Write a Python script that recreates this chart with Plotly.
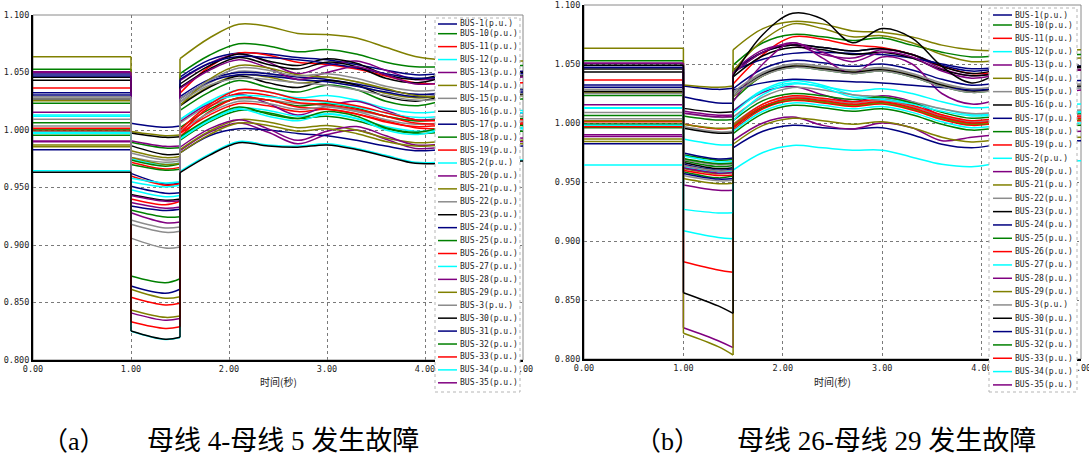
import plotly.graph_objects as go

# ---------------- data ----------------
BUSES = ["BUS-1", "BUS-10", "BUS-11", "BUS-12", "BUS-13", "BUS-14", "BUS-15", "BUS-16",
         "BUS-17", "BUS-18", "BUS-19", "BUS-2", "BUS-20", "BUS-21", "BUS-22", "BUS-23",
         "BUS-24", "BUS-25", "BUS-26", "BUS-27", "BUS-28", "BUS-29", "BUS-3", "BUS-30",
         "BUS-31", "BUS-32", "BUS-33", "BUS-34", "BUS-35", "BUS-36", "BUS-37", "BUS-38",
         "BUS-39", "BUS-4", "BUS-5", "BUS-6", "BUS-7", "BUS-8", "BUS-9"]
UNIT = "(p.u.)"
LEGEND_COUNT = 29  # entries visible in the (clipped) legend

T_PRE = [0.0, 1.0]
T_FAULT = [1.0, 1.35, 1.5]
T_POST = [1.5, 1.8, 2.1, 2.4, 2.7, 3.0, 3.3, 3.6, 3.9, 4.2, 5.0]

X_TICKS = [0, 1, 2, 3, 4, 5]
X_TICK_TEXT = ["0.00", "1.00", "2.00", "3.00", "4.00", "5.00"]
Y_TICKS = [0.80, 0.85, 0.90, 0.95, 1.00, 1.05, 1.10]
Y_TICK_TEXT = ["0.800", "0.850", "0.900", "0.950", "1.000", "1.050", "1.100"]
X_TITLE = "时间(秒)"
CAPTION_A = ("（a）", "母线 4-母线 5 发生故障")
CAPTION_B = ("（b）", "母线 26-母线 29 发生故障")

# ----- (a) fault on line 4-5 -----
PRE_A = [1.0487, 1.0528, 1.0365, 1.0130, 1.0507, 1.0637, 1.0287, 1.0458, 1.0470, 1.0232,
         1.0011, 0.9646, 1.0154, 1.0260, 1.0093, 1.0432, 1.0324, 1.0064, 0.9985, 0.9971,
         0.9898, 0.9870, 1.0035, 1.0270, 1.0304, 1.0000, 1.0015, 1.0120, 1.0500, 1.0255,
         1.0290, 0.9632, 0.9829, 0.9954, 0.9990, 0.9980, 0.9905, 0.9855, 1.0270]

FAULT_A = [
    [1.0058, 1.0023, 1.0035], [0.9893, 0.9843, 0.9845], [0.9720, 0.9661, 0.9675],
    [0.9748, 0.9700, 0.9714], [0.9907, 0.9858, 0.9860], [0.9986, 0.9951, 0.9957],
    [0.9762, 0.9719, 0.9733], [0.9974, 0.9936, 0.9942], [0.9623, 0.9530, 0.9542],
    [0.9739, 0.9685, 0.9706], [0.9600, 0.9520, 0.9532], [0.8250, 0.8178, 0.8195],
    [0.9280, 0.9194, 0.9200], [0.9762, 0.9700, 0.9710], [0.9217, 0.9148, 0.9157],
    [0.9864, 0.9786, 0.9791], [0.9510, 0.9450, 0.9455], [0.9700, 0.9650, 0.9658],
    [0.8545, 0.8478, 0.8493], [0.9550, 0.9505, 0.9520], [0.8410, 0.8345, 0.8360],
    [0.8615, 0.8537, 0.8550], [0.9060, 0.8974, 0.8983], [0.9440, 0.9390, 0.9400],
    [0.9340, 0.9300, 0.9310], [0.9304, 0.9243, 0.9246], [0.9400, 0.9350, 0.9380],
    [0.9480, 0.9420, 0.9430], [0.9370, 0.9320, 0.9330], [0.8435, 0.8371, 0.8383],
    [0.9800, 0.9740, 0.9750], [0.8252, 0.8180, 0.8197], [0.8643, 0.8580, 0.8615],
    [0.8730, 0.8672, 0.8707], [0.8333, 0.8275, 0.8290], [0.9580, 0.9540, 0.9550],
    [0.9430, 0.9380, 0.9385], [0.9820, 0.9760, 0.9770], [0.9180, 0.9110, 0.9120],
]

POST_A = [
    [1.046, 1.061, 1.067, 1.066, 1.063, 1.061, 1.057, 1.052, 1.048, 1.049, 1.051],
    [1.049, 1.065, 1.075, 1.073, 1.068, 1.070, 1.066, 1.059, 1.055, 1.055, 1.056],
    [1.032, 1.055, 1.067, 1.065, 1.059, 1.057, 1.053, 1.047, 1.041, 1.040, 1.041],
    [1.009, 1.025, 1.035, 1.033, 1.028, 1.030, 1.026, 1.019, 1.015, 1.016, 1.017],
    [1.043, 1.058, 1.066, 1.059, 1.049, 1.056, 1.060, 1.052, 1.044, 1.045, 1.050],
    [1.062, 1.080, 1.092, 1.090, 1.084, 1.083, 1.080, 1.072, 1.064, 1.061, 1.060],
    [1.025, 1.041, 1.051, 1.049, 1.044, 1.046, 1.042, 1.035, 1.031, 1.032, 1.033],
    [1.040, 1.056, 1.066, 1.060, 1.056, 1.062, 1.058, 1.048, 1.044, 1.048, 1.050],
    [1.044, 1.058, 1.064, 1.063, 1.061, 1.058, 1.054, 1.049, 1.045, 1.046, 1.049],
    [1.017, 1.033, 1.043, 1.037, 1.033, 1.039, 1.035, 1.025, 1.021, 1.025, 1.027],
    [0.997, 1.013, 1.023, 1.021, 1.016, 1.018, 1.014, 1.007, 1.003, 1.004, 1.005],
    [0.964, 0.979, 0.990, 0.987, 0.986, 0.988, 0.984, 0.978, 0.972, 0.972, 0.974],
    [1.007, 1.023, 1.031, 1.023, 1.013, 1.021, 1.025, 1.017, 1.009, 1.010, 1.015],
    [1.022, 1.038, 1.048, 1.046, 1.041, 1.043, 1.039, 1.032, 1.028, 1.029, 1.030],
    [1.006, 1.021, 1.027, 1.026, 1.023, 1.021, 1.017, 1.012, 1.008, 1.009, 1.012],
    [1.037, 1.053, 1.063, 1.057, 1.053, 1.059, 1.055, 1.045, 1.041, 1.045, 1.047],
    [1.029, 1.044, 1.050, 1.049, 1.046, 1.044, 1.040, 1.035, 1.031, 1.032, 1.035],
    [1.002, 1.018, 1.028, 1.026, 1.021, 1.023, 1.019, 1.012, 1.008, 1.009, 1.010],
    [0.994, 1.016, 1.028, 1.026, 1.020, 1.018, 1.014, 1.008, 1.002, 1.001, 1.002],
    [0.993, 1.009, 1.019, 1.017, 1.012, 1.014, 1.010, 1.003, 0.999, 1.000, 1.001],
    [0.982, 0.998, 1.006, 0.998, 0.988, 0.996, 1.000, 0.992, 0.984, 0.985, 0.990],
    [0.983, 0.999, 1.009, 1.007, 1.002, 1.004, 1.000, 0.993, 0.989, 0.990, 0.991],
    [0.999, 1.015, 1.025, 1.023, 1.018, 1.020, 1.016, 1.009, 1.005, 1.006, 1.007],
    [1.021, 1.037, 1.047, 1.041, 1.037, 1.043, 1.039, 1.029, 1.025, 1.029, 1.031],
    [1.027, 1.042, 1.048, 1.047, 1.044, 1.042, 1.038, 1.033, 1.029, 1.030, 1.033],
    [0.994, 1.010, 1.020, 1.014, 1.010, 1.016, 1.012, 1.002, 0.998, 1.002, 1.004],
    [0.997, 1.020, 1.032, 1.030, 1.024, 1.022, 1.018, 1.012, 1.006, 1.005, 1.006],
    [1.009, 1.024, 1.030, 1.029, 1.026, 1.024, 1.020, 1.015, 1.011, 1.012, 1.015],
    [1.036, 1.052, 1.061, 1.054, 1.044, 1.050, 1.055, 1.048, 1.040, 1.041, 1.046],
    [1.021, 1.044, 1.056, 1.054, 1.048, 1.046, 1.042, 1.036, 1.030, 1.029, 1.030],
    [1.027, 1.043, 1.054, 1.052, 1.047, 1.049, 1.045, 1.038, 1.034, 1.035, 1.036],
    [0.963, 0.978, 0.989, 0.986, 0.985, 0.987, 0.983, 0.977, 0.971, 0.971, 0.973],
    [0.980, 0.995, 1.001, 1.000, 0.997, 0.995, 0.991, 0.986, 0.982, 0.983, 0.986],
    [0.991, 1.007, 1.017, 1.015, 1.010, 1.012, 1.008, 1.001, 0.997, 0.998, 0.999],
    [1.000, 1.022, 1.035, 1.033, 1.027, 1.025, 1.021, 1.015, 1.009, 1.008, 1.009],
    [0.992, 1.008, 1.018, 1.012, 1.008, 1.014, 1.010, 1.000, 0.996, 1.000, 1.002],
    [0.985, 1.001, 1.009, 1.001, 0.991, 0.999, 1.003, 0.995, 0.987, 0.988, 0.993],
    [0.980, 0.996, 1.006, 1.004, 0.999, 1.001, 0.997, 0.990, 0.986, 0.987, 0.988],
    [1.024, 1.039, 1.045, 1.044, 1.041, 1.039, 1.035, 1.030, 1.026, 1.027, 1.030],
]

# ----- (b) fault on line 26-29 -----
PRE_B = [1.0487, 1.0528, 1.0365, 1.0130, 1.0507, 1.0633, 1.0287, 1.0458, 1.0470, 1.0232,
         1.0011, 0.9644, 1.0154, 1.0260, 1.0088, 1.0432, 1.0322, 1.0064, 0.9985, 0.9975,
         0.9900, 0.9864, 1.0035, 1.0266, 1.0302, 0.9992, 1.0015, 1.0124, 1.0506, 1.0020,
         1.0280, 1.0490, 0.9824, 0.9960, 0.9968, 0.9980, 0.9885, 0.9844, 1.0251]

FAULT_B = [
    [1.0314, 1.0285, 1.0294], [0.9730, 0.9685, 0.9690], [0.9992, 0.9950, 0.9960],
    [0.9720, 0.9670, 0.9675], [1.0102, 1.0066, 1.0068], [1.0322, 1.0302, 1.0314],
    [1.0080, 1.0048, 1.0050], [1.0124, 1.0090, 1.0096], [1.0223, 1.0170, 1.0167],
    [0.9680, 0.9630, 0.9640], [0.9695, 0.9650, 0.9660], [0.9864, 0.9816, 0.9816],
    [0.9475, 0.9430, 0.9430], [0.9615, 0.9570, 0.9580], [0.9970, 0.9925, 0.9930],
    [0.9955, 0.9913, 0.9918], [0.9746, 0.9695, 0.9703], [0.9587, 0.9535, 0.9550],
    [0.8825, 0.8755, 0.8735], [0.9087, 0.9030, 0.9020], [0.8265, 0.8155, 0.8096],
    [0.8218, 0.8105, 0.8034], [0.9690, 0.9645, 0.9650], [0.9665, 0.9612, 0.9620],
    [0.9650, 0.9600, 0.9610], [0.9700, 0.9655, 0.9660], [0.9640, 0.9585, 0.9590],
    [0.9268, 0.9238, 0.9240], [1.0085, 1.0052, 1.0055], [0.9990, 0.9955, 0.9960],
    [0.9555, 0.9510, 0.9515], [0.8562, 0.8450, 0.8387], [0.9573, 0.9525, 0.9530],
    [1.0060, 1.0025, 1.0030], [0.9600, 0.9555, 0.9560], [0.9630, 0.9582, 0.9596],
    [0.9620, 0.9575, 0.9580], [0.9530, 0.9485, 0.9490], [0.9640, 0.9595, 0.9600],
]

POST_B = [
    [1.045, 1.060, 1.066, 1.064, 1.061, 1.063, 1.058, 1.049, 1.044, 1.046, 1.048],
    [1.049, 1.068, 1.075, 1.073, 1.070, 1.072, 1.066, 1.060, 1.056, 1.057, 1.058],
    [1.033, 1.058, 1.073, 1.071, 1.066, 1.064, 1.058, 1.048, 1.042, 1.043, 1.045],
    [1.010, 1.028, 1.036, 1.032, 1.024, 1.021, 1.017, 1.012, 1.007, 1.008, 1.010],
    [1.044, 1.062, 1.066, 1.058, 1.055, 1.062, 1.058, 1.046, 1.040, 1.043, 1.047],
    [1.062, 1.080, 1.086, 1.084, 1.078, 1.077, 1.073, 1.066, 1.062, 1.061, 1.062],
    [1.025, 1.042, 1.049, 1.047, 1.044, 1.046, 1.041, 1.033, 1.028, 1.030, 1.032],
    [1.042, 1.060, 1.066, 1.064, 1.061, 1.063, 1.058, 1.048, 1.042, 1.045, 1.047],
    [1.044, 1.054, 1.059, 1.060, 1.059, 1.058, 1.055, 1.050, 1.046, 1.047, 1.048],
    [1.019, 1.040, 1.047, 1.045, 1.042, 1.044, 1.039, 1.031, 1.026, 1.028, 1.030],
    [0.997, 1.014, 1.020, 1.018, 1.015, 1.017, 1.012, 1.004, 0.999, 1.001, 1.003],
    [0.960, 0.975, 0.981, 0.979, 0.977, 0.977, 0.971, 0.965, 0.963, 0.966, 0.968],
    [1.010, 1.026, 1.031, 1.024, 1.018, 1.023, 1.018, 1.006, 1.000, 1.003, 1.008],
    [1.022, 1.040, 1.048, 1.046, 1.043, 1.045, 1.040, 1.032, 1.027, 1.029, 1.031],
    [1.005, 1.022, 1.030, 1.028, 1.024, 1.022, 1.018, 1.012, 1.008, 1.009, 1.011],
    [1.039, 1.057, 1.064, 1.062, 1.058, 1.060, 1.055, 1.045, 1.040, 1.042, 1.045],
    [1.029, 1.046, 1.053, 1.051, 1.048, 1.050, 1.045, 1.037, 1.032, 1.034, 1.036],
    [1.002, 1.019, 1.025, 1.023, 1.020, 1.022, 1.017, 1.009, 1.004, 1.006, 1.008],
    [0.994, 1.012, 1.019, 1.017, 1.014, 1.016, 1.011, 1.003, 0.998, 1.000, 1.002],
    [0.993, 1.010, 1.017, 1.015, 1.012, 1.014, 1.009, 1.001, 0.996, 0.998, 1.000],
    [1.018, 1.050, 1.068, 1.055, 1.042, 1.056, 1.050, 1.025, 1.016, 1.020, 1.028],
    [1.044, 1.070, 1.084, 1.080, 1.073, 1.074, 1.068, 1.058, 1.052, 1.053, 1.055],
    [0.999, 1.016, 1.022, 1.020, 1.017, 1.019, 1.014, 1.006, 1.001, 1.003, 1.005],
    [1.023, 1.041, 1.048, 1.046, 1.043, 1.045, 1.040, 1.032, 1.027, 1.029, 1.031],
    [1.028, 1.034, 1.037, 1.036, 1.035, 1.034, 1.032, 1.030, 1.028, 1.029, 1.030],
    [0.996, 1.013, 1.020, 1.018, 1.015, 1.017, 1.012, 1.004, 0.999, 1.001, 1.003],
    [0.998, 1.016, 1.023, 1.021, 1.018, 1.020, 1.015, 1.007, 1.002, 1.004, 1.006],
    [1.008, 1.027, 1.034, 1.030, 1.022, 1.020, 1.016, 1.010, 1.006, 1.007, 1.009],
    [1.042, 1.060, 1.068, 1.060, 1.052, 1.060, 1.056, 1.044, 1.038, 1.041, 1.045],
    [0.998, 1.014, 1.020, 1.018, 1.015, 1.017, 1.012, 1.004, 0.999, 1.001, 1.003],
    [1.026, 1.043, 1.050, 1.048, 1.045, 1.047, 1.042, 1.034, 1.029, 1.031, 1.033],
    [1.040, 1.075, 1.093, 1.088, 1.068, 1.080, 1.072, 1.048, 1.034, 1.042, 1.048],
    [0.979, 0.993, 0.998, 0.996, 0.995, 0.996, 0.990, 0.982, 0.979, 0.982, 0.985],
    [0.991, 1.008, 1.015, 1.013, 1.010, 1.012, 1.007, 0.999, 0.994, 0.996, 0.998],
    [0.996, 1.014, 1.021, 1.019, 1.016, 1.018, 1.013, 1.005, 1.000, 1.002, 1.004],
    [1.002, 1.024, 1.033, 1.031, 1.027, 1.029, 1.025, 1.018, 1.013, 1.014, 1.016],
    [0.985, 1.000, 1.005, 0.998, 0.995, 1.000, 0.996, 0.985, 0.988, 0.990, 0.993],
    [0.982, 0.998, 1.004, 1.002, 0.999, 1.001, 0.996, 0.988, 0.984, 0.986, 0.988],
    [1.023, 1.040, 1.047, 1.045, 1.042, 1.044, 1.039, 1.031, 1.026, 1.028, 1.030],
]

# ---------------- style / layout ----------------
W, H = 1089, 456
PALETTE = ["#000080", "#008000", "#FF0000", "#00FFFF", "#800080", "#808000", "#8C8C8C", "#000000"]
MONO = "DejaVu Sans Mono, Liberation Mono, monospace"
CJK = "Noto Sans CJK SC, sans-serif"
SERIF = "Liberation Serif, Noto Sans CJK SC, serif"
ON_TOP = "BUS-38"  # drawn last, as in the original


def px(x):
    return x / W


def py(y):
    return 1 - y / H


PANELS = [
    dict(xa="x", ya="y", pre=PRE_A, fault=FAULT_A, post=POST_A,
         xdom=(33, 523), ydom=(360, 15),
         legend=dict(box=(435, 18, 520, 392), line=(438, 457), text=459,
                     first=24.0, second=33.7, step=12.93),
         caption=CAPTION_A, cap_x=(40, 145)),
    dict(xa="x2", ya="y2", pre=PRE_B, fault=FAULT_B, post=POST_B,
         xdom=(584, 1081), ydom=(359, 5),
         legend=dict(box=(989, 8, 1077, 392), line=(993, 1012), text=1014,
                     first=15.0, second=25.0, step=13.33),
         caption=CAPTION_B, cap_x=(633, 735)),
]

fig = go.Figure()

order = [i for i, b in enumerate(BUSES) if b != ON_TOP] + [BUSES.index(ON_TOP)]
for P in PANELS:
    for i in order:
        name = BUSES[i]
        pre, fault, post = P["pre"][i], P["fault"][i], P["post"][i]
        segs = [
            (T_PRE, [pre, pre]),
            ([T_FAULT[0], T_FAULT[0]], [pre, fault[0]]),
            (T_FAULT, fault),
            ([T_POST[0], T_POST[0]], [fault[-1], post[0]]),
            (T_POST, post),
        ]
        xs, ys = [], []
        for sx, sy in segs:
            if xs:
                xs.append(None)
                ys.append(None)
            xs += list(sx)
            ys += list(sy)
        fig.add_trace(go.Scatter(
            x=xs, y=ys, mode="lines", name=name + UNIT,
            line=dict(color=PALETTE[i % 8], width=1.5, shape="spline"),
            connectgaps=False, showlegend=False, hoverinfo="skip",
            xaxis=P["xa"], yaxis=P["ya"]))

axis_common = dict(showgrid=True, gridcolor="#7a7a7a", griddash="dot", gridwidth=1,
                   zeroline=False, showline=True, linecolor="#000000", linewidth=2,
                   ticks="", automargin=False, ticklabeloverflow="allow",
                   tickfont=dict(family=MONO, size=8.5, color="#222222"))

layout_axes = {}
for k, P in enumerate(PANELS):
    sfx = "" if k == 0 else str(k + 1)
    layout_axes["xaxis" + sfx] = dict(
        domain=[px(P["xdom"][0]), px(P["xdom"][1])], range=[0, 5],
        tickvals=X_TICKS, ticktext=X_TICK_TEXT, anchor="y" + sfx, **axis_common)
    layout_axes["yaxis" + sfx] = dict(
        domain=[py(P["ydom"][0]), py(P["ydom"][1])], range=[0.8, 1.1],
        tickvals=Y_TICKS, ticktext=Y_TICK_TEXT, anchor="x" + sfx, **axis_common)

fig.update_layout(width=W, height=H,
                  margin=dict(l=0, r=0, t=0, b=0, pad=0, autoexpand=False),
                  paper_bgcolor="white", plot_bgcolor="white", showlegend=False,
                  **layout_axes)

for k, P in enumerate(PANELS):
    sfx = "" if k == 0 else str(k + 1)
    # thin frame (top / right)
    fig.add_shape(type="rect", xref="x" + sfx + " domain", yref="y" + sfx + " domain",
                  x0=0, x1=1, y0=0, y1=1, line=dict(color="#8a8a8a", width=1), layer="below")
    # x-axis title
    fig.add_annotation(xref="x" + sfx + " domain", yref="paper", x=0.5, y=py(381),
                       text=X_TITLE, showarrow=False, xanchor="center", yanchor="middle",
                       font=dict(family=CJK, size=10, color="#222222"))
    # manual legend (clipped, dense rows like the original)
    L = P["legend"]
    bx0, by0, bx1, by1 = L["box"]
    fig.add_shape(type="rect", xref="paper", yref="paper",
                  x0=px(bx0), x1=px(bx1), y0=py(by1), y1=py(by0),
                  fillcolor="white", line=dict(color="#b5b5b5", width=1, dash="dot"),
                  layer="above")
    for i in range(LEGEND_COUNT):
        yy = L["first"] if i == 0 else L["second"] + L["step"] * (i - 1)
        fig.add_shape(type="line", xref="paper", yref="paper",
                      x0=px(L["line"][0]), x1=px(L["line"][1]), y0=py(yy), y1=py(yy),
                      line=dict(color=PALETTE[i % 8], width=1.5), layer="above")
        fig.add_annotation(xref="paper", yref="paper", x=px(L["text"]), y=py(yy),
                           text=BUSES[i] + UNIT, showarrow=False, xanchor="left",
                           yanchor="middle", borderpad=0,
                           font=dict(family=MONO, size=8, color="#222222"))
    # caption
    cap_l, cap_r = P["caption"]
    fig.add_annotation(xref="paper", yref="paper", x=px(P["cap_x"][0]), y=py(441),
                       text=cap_l, showarrow=False, xanchor="left", yanchor="middle",
                       font=dict(family=SERIF, size=26, color="#000000"))
    fig.add_annotation(xref="paper", yref="paper", x=px(P["cap_x"][1]), y=py(441),
                       text=cap_r, showarrow=False, xanchor="left", yanchor="middle",
                       font=dict(family=SERIF, size=27, color="#000000"))

fig.write_html("out.html", config={"displayModeBar": False, "staticPlot": True},
               post_script="document.body.style.margin='0';document.body.style.overflow='hidden';")
